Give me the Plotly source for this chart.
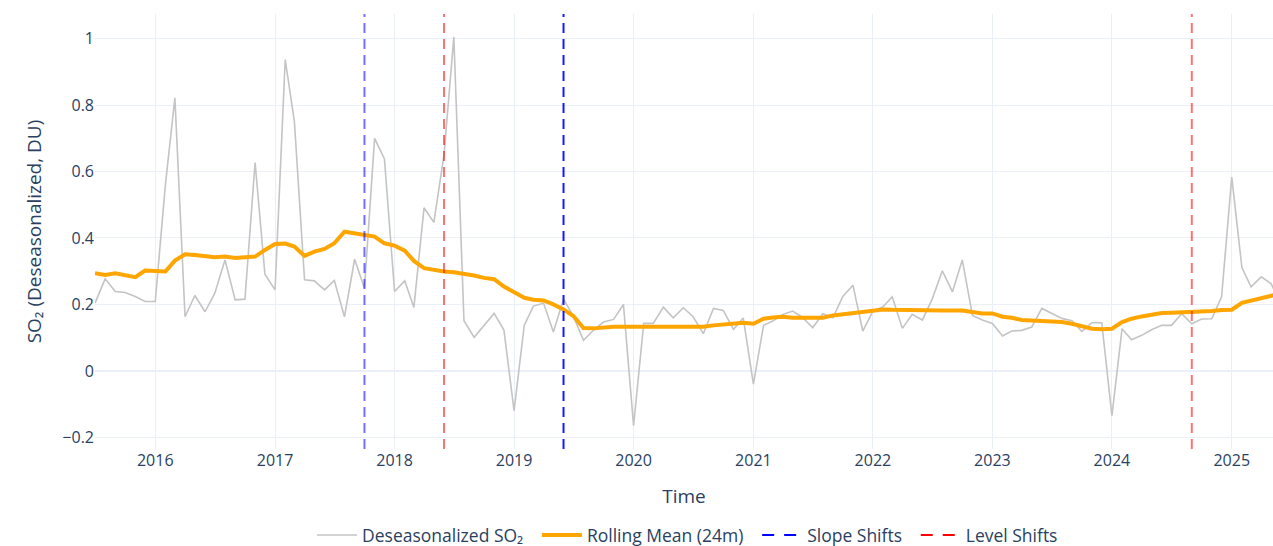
import pandas as pd
import plotly.graph_objects as go

# Monthly deseasonalized SO2 column (DU), July 2015 - June 2025
months = pd.date_range("2015-07-01", periods=120, freq="MS")

so2_deseasonalized = [
    # 2015 (Jul-Dec)
    0.204, 0.277, 0.239, 0.236, 0.224, 0.209,
    # 2016
    0.209, 0.560, 0.822, 0.163, 0.227, 0.178, 0.234, 0.334, 0.214, 0.216, 0.627, 0.291,
    # 2017
    0.244, 0.937, 0.750, 0.274, 0.271, 0.244, 0.272, 0.163, 0.336, 0.249, 0.700, 0.638,
    # 2018
    0.239, 0.271, 0.191, 0.491, 0.447, 0.650, 1.005, 0.151, 0.101, 0.136, 0.173, 0.123,
    # 2019
    -0.120, 0.137, 0.195, 0.204, 0.117, 0.216, 0.165, 0.092, 0.123, 0.147, 0.155, 0.200,
    # 2020
    -0.165, 0.143, 0.143, 0.192, 0.160, 0.190, 0.163, 0.112, 0.188, 0.182, 0.125, 0.159,
    # 2021
    -0.040, 0.137, 0.150, 0.170, 0.180, 0.160, 0.130, 0.172, 0.160, 0.224, 0.258, 0.120,
    # 2022
    0.180, 0.193, 0.223, 0.128, 0.170, 0.153, 0.216, 0.301, 0.238, 0.334, 0.167, 0.153,
    # 2023
    0.143, 0.105, 0.120, 0.122, 0.132, 0.188, 0.173, 0.158, 0.151, 0.119, 0.145, 0.145,
    # 2024
    -0.135, 0.127, 0.094, 0.107, 0.124, 0.137, 0.137, 0.172, 0.142, 0.156, 0.157, 0.223,
    # 2025 (Jan-Jun)
    0.583, 0.311, 0.253, 0.283, 0.263, 0.200,
]

rolling_mean_24m = [
    # 2015 (Jul-Dec)
    0.294, 0.289, 0.294, 0.289, 0.282, 0.302,
    # 2016
    0.301, 0.299, 0.332, 0.351, 0.349, 0.346, 0.342, 0.344, 0.340, 0.342, 0.344, 0.364,
    # 2017
    0.382, 0.383, 0.374, 0.346, 0.359, 0.367, 0.384, 0.419, 0.414, 0.409, 0.404, 0.384,
    # 2018
    0.377, 0.362, 0.331, 0.309, 0.304, 0.299, 0.297, 0.293, 0.287, 0.280, 0.276, 0.254,
    # 2019
    0.236, 0.220, 0.214, 0.212, 0.200, 0.185, 0.165, 0.129, 0.128, 0.131, 0.133, 0.133,
    # 2020
    0.133, 0.134, 0.134, 0.134, 0.133, 0.135, 0.134, 0.133, 0.137, 0.139, 0.142, 0.145,
    # 2021
    0.142, 0.157, 0.161, 0.163, 0.160, 0.159, 0.159, 0.160, 0.167, 0.170, 0.175, 0.178,
    # 2022
    0.179, 0.185, 0.184, 0.183, 0.182, 0.181, 0.181, 0.182, 0.182, 0.182, 0.177, 0.173,
    # 2023
    0.173, 0.163, 0.160, 0.153, 0.152, 0.151, 0.149, 0.147, 0.142, 0.134, 0.127, 0.125,
    # 2024
    0.127, 0.147, 0.157, 0.164, 0.170, 0.174, 0.175, 0.176, 0.176, 0.177, 0.180, 0.183,
    # 2025 (Jan-Jun)
    0.184, 0.205, 0.211, 0.218, 0.226, 0.233,
]

# Detected structural breaks
slope_shift_dates = ["2017-10-01", "2019-06-01"]
level_shift_dates = ["2018-06-01", "2024-09-01"]

# Drawing styles for the break markers
slope_line_opacity = [0.55, 0.9]
level_line_opacity = [0.55, 0.55]
break_dash = "10px,6px"
legend_dash = "12px,10px"

# a little breathing room between legend entries
pad = "\u2002"

fig = go.Figure()

fig.add_trace(go.Scatter(
    x=months, y=so2_deseasonalized, mode="lines",
    name="Deseasonalized SO₂" + pad,
    line=dict(color="#c4c4c4", width=1.6),
))
fig.add_trace(go.Scatter(
    x=months, y=rolling_mean_24m, mode="lines",
    name="Rolling Mean (24m)" + pad,
    line=dict(color="orange", width=4),
))

# Legend-only entries for the break markers
fig.add_trace(go.Scatter(
    x=[None], y=[None], mode="lines", name="Slope Shifts" + pad,
    line=dict(color="blue", width=2, dash=legend_dash),
))
fig.add_trace(go.Scatter(
    x=[None], y=[None], mode="lines", name="Level Shifts",
    line=dict(color="red", width=2, dash=legend_dash),
))

for d, op in zip(slope_shift_dates, slope_line_opacity):
    fig.add_shape(type="line", xref="x", yref="paper", x0=d, x1=d, y0=0, y1=1,
                  line=dict(color="blue", width=2, dash=break_dash), opacity=op)
for d, op in zip(level_shift_dates, level_line_opacity):
    fig.add_shape(type="line", xref="x", yref="paper", x0=d, x1=d, y0=0, y1=1,
                  line=dict(color="red", width=2, dash=break_dash), opacity=op)

fig.update_layout(
    template="plotly_white",
    width=1273, height=546,
    margin=dict(l=95, r=0, t=14, b=97),
    font=dict(size=16),
    showlegend=True,
    legend=dict(orientation="h", x=0.503, xanchor="center",
                yref="container", y=0.053, yanchor="top",
                itemwidth=40, font=dict(size=17.5)),
    xaxis=dict(title=dict(text="Time", standoff=19),
               range=["2015-07-01", "2025-05-07"],
               dtick="M12", tickformat="%Y"),
    yaxis=dict(title=dict(text="SO₂ (Deseasonalized, DU)"), range=[-0.235, 1.074],
               dtick=0.2),
)

fig.write_html("out.html")
